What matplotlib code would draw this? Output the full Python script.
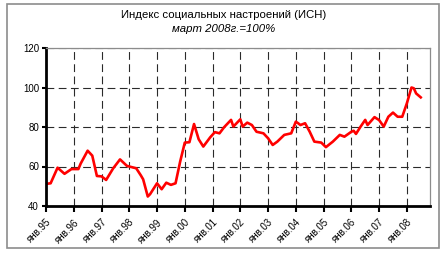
import matplotlib
matplotlib.use("Agg")
import matplotlib.pyplot as plt
import matplotlib.patches as mpatches
import pandas as pd

# readings taken off the reference chart (month, index value)
months = [
    "1995-01", "1995-03", "1995-06", "1995-09", "1995-12",
    "1996-03", "1996-04", "1996-07", "1996-09", "1996-11",
    "1997-01", "1997-03", "1997-06", "1997-09", "1997-12",
    "1998-04", "1998-06", "1998-07", "1998-09", "1998-10",
    "1999-01", "1999-03", "1999-05", "1999-07", "1999-09", "1999-11",
    "2000-01", "2000-03", "2000-05", "2000-07", "2000-09", "2000-12",
    "2001-02", "2001-04", "2001-06", "2001-09", "2001-10",
    "2002-01", "2002-02", "2002-04", "2002-06", "2002-08", "2002-11",
    "2003-01", "2003-03", "2003-05", "2003-08", "2003-11",
    "2004-01", "2004-02", "2004-03", "2004-05", "2004-07", "2004-09", "2004-12",
    "2005-02", "2005-05", "2005-08", "2005-10",
    "2006-01", "2006-02", "2006-03", "2006-05", "2006-07", "2006-08", "2006-11",
    "2007-01", "2007-03", "2007-05", "2007-07", "2007-09", "2007-11",
    "2008-01", "2008-03", "2008-04", "2008-05", "2008-07",
]
isn = [
    51.2, 51.5, 59.4, 56.3, 58.7,
    58.7, 61.5, 68.0, 65.5, 55.2,
    55.0, 53.2, 59.0, 63.6, 60.3,
    59.1, 55.5, 53.5, 44.8, 46.0,
    51.5, 48.5, 51.8, 50.7, 51.5, 62.5,
    72.1, 72.3, 81.5, 73.8, 70.1, 74.8,
    77.4, 76.8, 79.9, 83.6, 80.2,
    83.9, 80.2, 82.2, 81.0, 77.6, 76.8,
    74.3, 70.9, 72.6, 76.0, 76.8,
    82.7, 81.9, 81.0, 81.9, 77.6, 72.6, 72.1,
    69.8, 72.6, 76.0, 75.1,
    77.6, 78.1, 76.5, 80.2, 83.6, 81.0, 85.0,
    83.5, 80.2, 85.2, 87.3, 85.2, 85.2,
    92.0, 100.0, 99.6, 97.0, 95.0,
]
years = list(range(1995, 2009))
tick_labels = ["янв.%02d" % (y % 100) for y in years]

plt.rcParams['font.family'] = ['Liberation Sans', 'DejaVu Sans']

d = pd.to_datetime(months)
x = (d.year - 1995) * 12 + (d.month - 1)

fig = plt.figure(figsize=(4.48, 2.58), dpi=100)
fig.patches.append(mpatches.Rectangle((7 / 448, 10 / 258), 432 / 448, 244 / 258,
                                      transform=fig.transFigure, fill=False,
                                      edgecolor="#8c8c8c", linewidth=1.2))
ax = fig.add_axes([46 / 448, 52 / 258, 384 / 448, 158 / 258])

ax.plot(x, isn, color="#ff0000", linewidth=1.9, solid_joinstyle="round")

ax.set_xlim(0, 166)
ax.set_ylim(40, 120)
ax.set_yticks([40, 60, 80, 100, 120])
ax.set_xticks([(y - 1995) * 12 for y in years])
ax.set_xticklabels(tick_labels, rotation=45, ha="right", va="top",
                   rotation_mode="anchor", fontsize=7)
ax.tick_params(axis="y", labelsize=7, direction="out", length=3, width=1.5, pad=2)
ax.tick_params(axis="x", direction="out", length=4, width=1.5, pad=4)

ax.grid(True, color="#2a2a2a", linestyle=(0, (7, 4)), linewidth=0.8)
ax.set_axisbelow(True)
for s in ["left", "bottom"]:
    ax.spines[s].set_linewidth(2)
    ax.spines[s].set_color("black")
for s in ["top", "right"]:
    ax.spines[s].set_linewidth(0.9)
    ax.spines[s].set_color("#8c8c8c")

fig.text(0.5, 1 - 15 / 258, "Индекс социальных настроений (ИСН)", ha="center",
         va="center", fontsize=8.2)
fig.text(0.5, 1 - 29 / 258, "март 2008г.=100%", ha="center", va="center",
         fontsize=8.2, style="italic")

fig.savefig("out.png", dpi=100)
